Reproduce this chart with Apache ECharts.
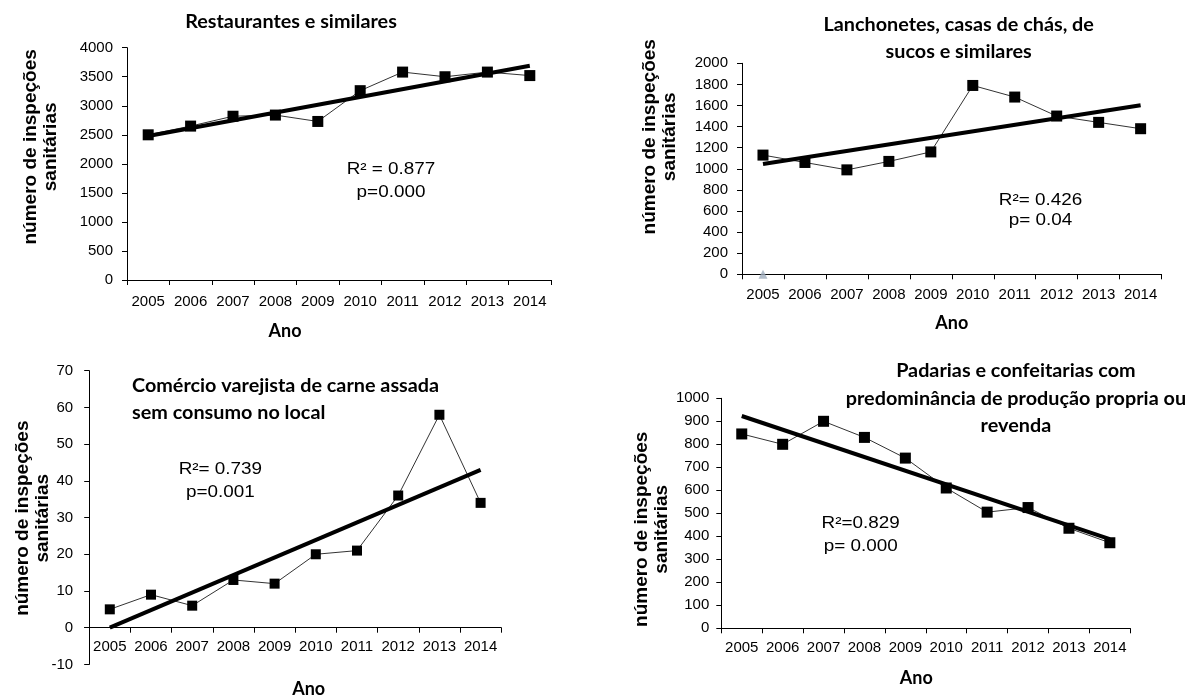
<!DOCTYPE html>
<html>
<head>
<meta charset="utf-8">
<script src="https://cdn.jsdelivr.net/npm/echarts@6/dist/echarts.min.js"></script>
<style>
html,body{margin:0;padding:0;background:#fff;}
#chart{width:1189px;height:695px;}
</style>
</head>
<body>
<div id="chart"></div>
<script>
// ---- data ----
const years = ['2005','2006','2007','2008','2009','2010','2011','2012','2013','2014'];

const restaurantes      = [2500, 2650, 2820, 2840, 2730, 3260, 3580, 3500, 3580, 3520];
const restaurantesTrend = [2480, 3690];          // fitted line at 2005 and 2014
const restaurantesAxis  = [0, 4000, 500];        // min, max, step

const lanchonetes       = [1130, 1060, 990, 1070, 1160, 1790, 1680, 1500, 1440, 1380];
const lanchonetesTrend  = [1045, 1602];
const lanchonetesExtra  = [0];                   // grey triangle at 2005
const lanchonetesAxis   = [0, 2000, 200];

const carne             = [5, 9, 6, 13, 12, 20, 21, 36, 58, 34];
const carneTrend        = [0, 43];
const carneAxis         = [0, 70, 10];
const carneNegAxis      = [-10, 0, 10];          // part of the axis below zero

const padarias          = [845, 800, 900, 830, 740, 610, 505, 525, 435, 372];
const padariasTrend     = [923, 388];
const padariasAxis      = [0, 1000, 100];

const titles = [
  'Restaurantes e similares',
  'Lanchonetes, casas de chás, de\nsucos e similares',
  'Comércio varejista de carne assada\nsem consumo no local',
  'Padarias e confeitarias com\npredominância de produção propria ou\nrevenda'
];
const stats = [
  ['R² = 0.877', 'p=0.000'],
  ['R²= 0.426', 'p= 0.04'],
  ['R²= 0.739', 'p=0.001'],
  ['R²=0.829', 'p= 0.000']
];
const xName = 'Ano';
const yName = 'número de inspeções\nsanitárias';

// ---- layout (pixels) ----
const panels = [
  {grid:{left:127, top:47.7, width:424, height:232.3}, axis:restaurantesAxis, values:restaurantes, trend:restaurantesTrend,
   yGap:66, yPad:[0,0,0,34], xGap:42, xPad:[0,108,0,0], xMargin:14, yMargin:14, sym:11,
   title:{x:291, y:22, align:'center', lh:27}, stat:{x:391, y1:169.4, y2:192.4}},
  {grid:{left:742, top:63.3, width:419.6, height:211}, axis:lanchonetesAxis, values:lanchonetes, trend:lanchonetesTrend,
   yGap:62, yPad:[0,0,0,64], xGap:40, xPad:[0,0,0,0], xMargin:13, yMargin:14, sym:11,
   title:{x:958.7, y:38.8, align:'center', lh:27.5}, stat:{x:1040.5, y1:200.4, y2:221}},
  {grid:{left:89.2, top:370.7, width:412, height:257}, axis:carneAxis, values:carne, trend:carneTrend,
   yGap:35, yPad:[0,38,0,0], xGap:52, xPad:[0,0,0,27], xMargin:12, yMargin:16, sym:10,
   title:{x:132, y:399.3, align:'left', lh:27}, stat:{x:220.4, y1:469.4, y2:492.4}},
  {grid:{left:721.3, top:398.3, width:409, height:230}, axis:padariasAxis, values:padarias, trend:padariasTrend,
   yGap:49, yPad:[0,32,0,0], xGap:41, xPad:[0,19,0,0], xMargin:12, yMargin:12, sym:11,
   title:{x:1015.9, y:399, align:'center', lh:27.5}, stat:{x:860.7, y1:523.7, y2:547}}
];

const tickFont = '"Liberation Sans", Arial, sans-serif';
const titleFont = 'bold 18px Lato, "Open Sans", sans-serif';
const statFont = '16px "Liberation Sans", Arial, sans-serif';
const grids = [], xAxes = [], yAxes = [], series = [], graphics = [];

function yAxisBase(i) {
  return {
    type:'value', gridIndex:i,
    axisLine:{show:true, lineStyle:{color:'#000', width:1}},
    axisTick:{show:true, length:5, inside:false, lineStyle:{color:'#000'}},
    splitLine:{show:false}
  };
}

panels.forEach((p, i) => {
  grids.push(Object.assign({containLabel:false, outerBoundsMode:'none'}, p.grid));
  xAxes.push({
    type:'category', gridIndex:i, data:years, boundaryGap:true,
    name:xName, nameLocation:'middle', nameGap:p.xGap,
    nameTextStyle:{fontFamily:'Lato, "Open Sans", sans-serif', fontWeight:'bold', fontSize:18, color:'#000', padding:p.xPad},
    axisLine:{show:true, onZero:false, lineStyle:{color:'#000', width:1}},
    axisTick:{show:true, length:5, inside:false, lineStyle:{color:'#000'}},
    axisLabel:{color:'#000', fontFamily:tickFont, fontSize:15, margin:p.xMargin, interval:0},
    splitLine:{show:false}
  });
  yAxes.push(Object.assign(yAxisBase(i), {
    min:p.axis[0], max:p.axis[1], interval:p.axis[2],
    name:yName, nameLocation:'middle', nameRotate:90, nameGap:p.yGap,
    nameTextStyle:{fontFamily:tickFont, fontWeight:'bold', fontSize:19, lineHeight:20, color:'#000', padding:p.yPad},
    axisLabel:{color:'#000', fontFamily:tickFont, fontSize:15, margin:p.yMargin, formatter:v => String(v)}
  }));
  series.push({
    type:'line', xAxisIndex:i, yAxisIndex:i, data:p.values,
    symbol:'rect', symbolSize:p.sym, showSymbol:true,
    lineStyle:{color:'#333', width:1}, itemStyle:{color:'#000'},
    animation:false, z:2
  });
  series.push({
    type:'line', xAxisIndex:i, yAxisIndex:i,
    data:[[years[0], p.trend[0]], [years[years.length-1], p.trend[1]]],
    symbol:'none', lineStyle:{color:'#000', width:4}, animation:false, z:3
  });
  graphics.push({
    type:'text', x:p.title.x, y:p.title.y, scaleX:1.1,
    style:{text:titles[i], fill:'#000', font:titleFont,
      lineHeight:p.title.lh, textAlign:p.title.align, textVerticalAlign:'middle',
      align:p.title.align, verticalAlign:'middle'}
  });
  graphics.push({
    type:'text', x:p.stat.x, y:p.stat.y1, scaleX:1.18,
    style:{text:stats[i][0], fill:'#000', font:statFont,
      textAlign:'center', textVerticalAlign:'middle', align:'center', verticalAlign:'middle'}
  });
  graphics.push({
    type:'text', x:p.stat.x, y:p.stat.y2, scaleX:1.18,
    style:{text:stats[i][1], fill:'#000', font:statFont,
      textAlign:'center', textVerticalAlign:'middle', align:'center', verticalAlign:'middle'}
  });
});

// extension of panel 3's value axis below zero (-10 .. 0)
const negGrid = grids.length;
grids.push({containLabel:false, outerBoundsMode:'none', left:89.2, top:627.7, width:412, height:36.7});
xAxes.push({type:'category', gridIndex:negGrid, data:years, show:false});
yAxes.push(Object.assign(yAxisBase(negGrid), {
  min:carneNegAxis[0], max:carneNegAxis[1], interval:carneNegAxis[2],
  axisLabel:{color:'#000', fontFamily:tickFont, fontSize:15, margin:16,
    formatter:v => (v === 0 ? '' : String(v))}
}));

// grey triangle on panel 2
series.push({
  type:'scatter', xAxisIndex:1, yAxisIndex:1,
  data:lanchonetesExtra.map((v, k) => [years[k], v]),
  symbol:'triangle', symbolSize:9, itemStyle:{color:'#9fadbd'}, animation:false, z:4
});

const chart = echarts.init(document.getElementById('chart'), null, {renderer:'canvas'});
chart.setOption({
  animation:false,
  backgroundColor:'#fff',
  grid:grids, xAxis:xAxes, yAxis:yAxes, series:series, graphic:graphics
});
</script>
</body>
</html>
